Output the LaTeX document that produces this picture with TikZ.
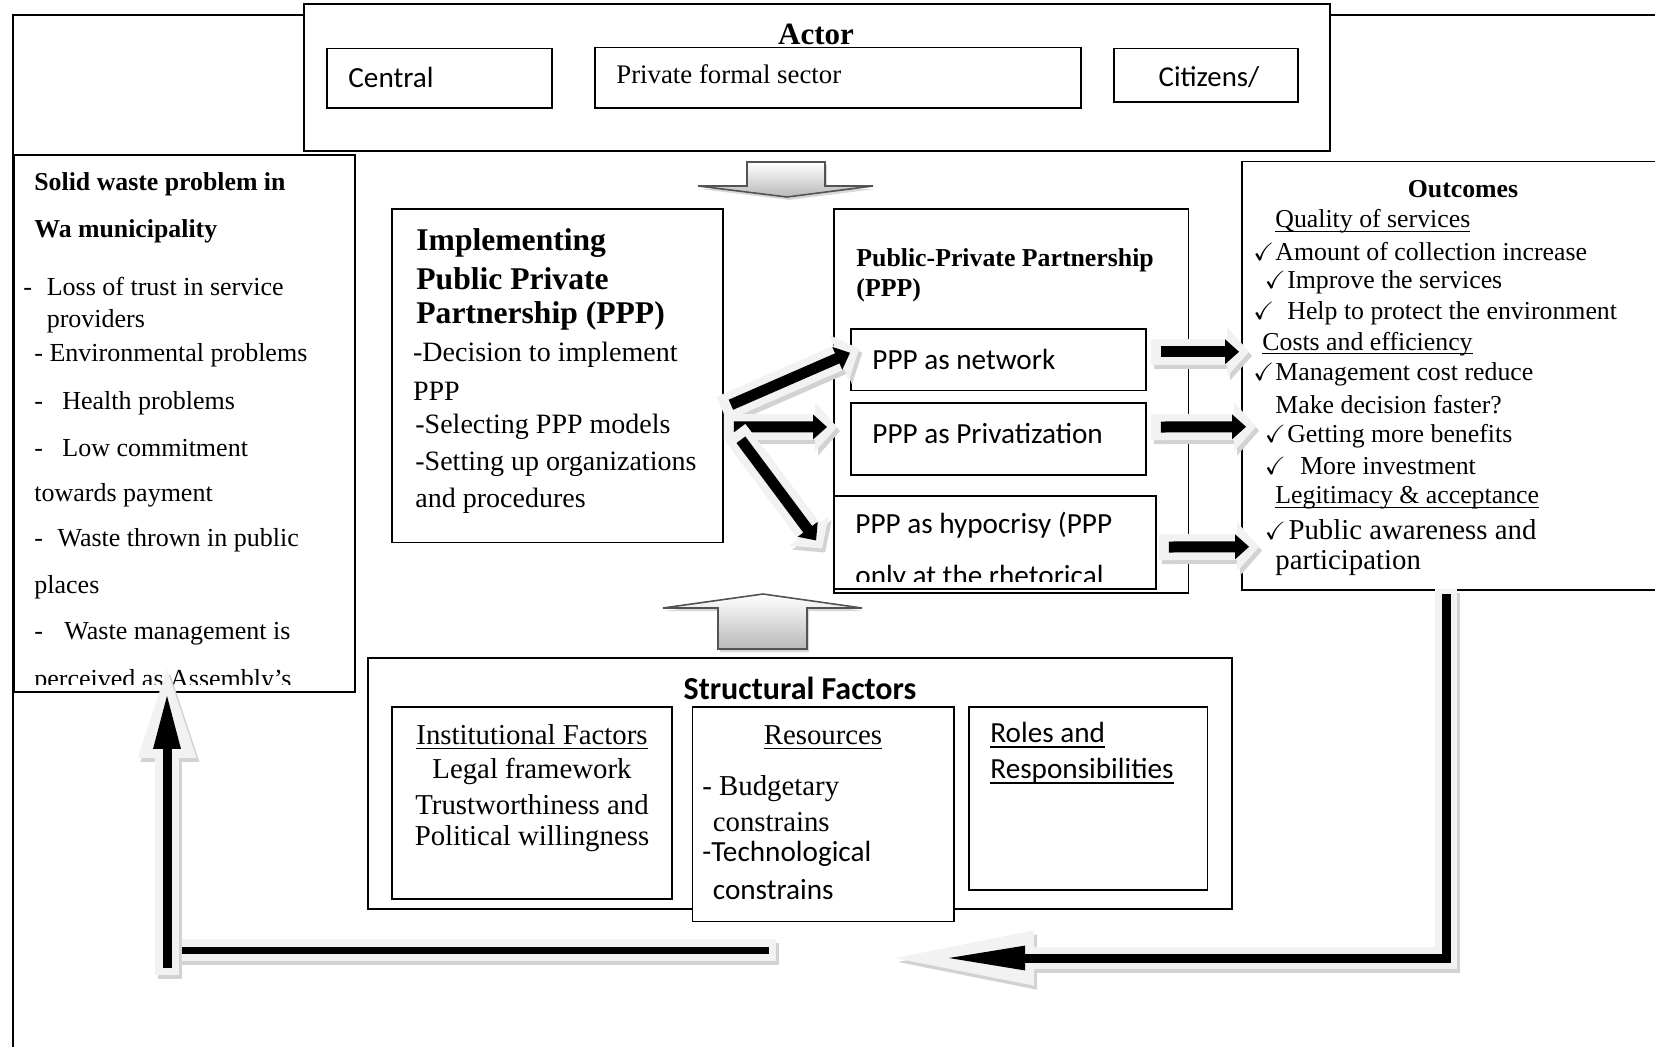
\documentclass[tikz,border=0pt]{standalone}
\usepackage{amssymb}
\usepackage{fontspec}
\setmainfont{Liberation Serif}
\newfontfamily\calibri{Carlito}
\usepackage{tikz}
\usetikzlibrary{arrows.meta,calc,fit,shadows,positioning}

\newcommand{\fsz}[1]{\fontsize{#1}{#1}\selectfont}
\newcommand{\ck}[1]{\makebox[#1][l]{\fsz{12.5}$\checkmark$}}
\newcommand{\dsh}[1]{\makebox[#1][l]{-}}
\newcommand{\ul}[1]{\underline{\smash{#1}}\vphantom{#1}}
\newcommand{\fatarrow}[2]{%
	\path[draw, fat shadow] #1 -- #2;
	\path[draw, fat halo] #1 -- #2;
	\path[draw, fat core] #1 -- #2;}

\tikzset{
	box/.style = {draw = black, line width = 0.9pt, fill = white, inner sep = 0pt},
	txt/.style = {inner sep = 0pt, anchor = west},
	wtitle/.style = {txt, yshift = -1.5pt, font = \bfseries\fsz{12.9}},
	wtxt/.style = {txt, yshift = -1.5pt, font = \fsz{13}},
	ititle/.style = {txt, yshift = -1.5pt, font = \bfseries\fsz{15.8}},
	itxt/.style = {txt, yshift = -1.5pt, font = \fsz{14}},
	ptitle/.style = {txt, yshift = -1.5pt, font = \bfseries\fsz{12.9}},
	sans/.style = {txt, font = \calibri\fsz{14.6}},
	otxt/.style = {txt, yshift = -1.5pt, font = \fsz{12.9}},
	ftxt/.style = {inner sep = 0pt, yshift = -1.5pt, font = \fsz{14.4}},
	blockarrow/.style = {draw = gray!65!black, line width = 0.8pt, top color = white, bottom color = gray!55,
		drop shadow = {shadow xshift = 1pt, shadow yshift = -1.5pt, opacity = 0.3}},
	fat core/.style = {draw = black, line width = 5.5pt, -{Triangle[length = 7pt, width = 12pt]}},
	fat halo/.style = {draw = gray!10, line width = 13pt, -{Triangle[length = 11pt, width = 24pt]},
		shorten <= -5pt, shorten >= -5pt},
	fat shadow/.style = {fat halo, draw = gray!35, transform canvas = {shift = {(1.5pt, -2pt)}}},
	fb halo/.style = {draw = gray!10, line width = 11pt, line join = miter},
	fb shadow/.style = {fb halo, draw = gray!35, transform canvas = {shift = {(1.5pt, -2pt)}}},
	fb core/.style = {draw = black, line width = 4.5pt, line join = miter}
}

\begin{document}
\begin{tikzpicture}[x = 0.5pt, y = -0.5pt]
\clip (0, 0) rectangle (1655, 1046);
\node[box, line width = 0.8pt, fit = {(13, 15) (1700, 1100)}] (frame) {};

% actors
\node[box, fit = {(304, 4) (1330, 151)}] (actor) {};
\node[box, fit = {(327, 48.5) (552, 108)}] (central) {};
\node[box, fit = {(595, 47.5) (1081, 108)}] (private) {};
\node[box, fit = {(1114, 48.5) (1298, 102)}] (citizens) {};
\node[inner sep = 0pt, font = \bfseries\fsz{15.5}] (actorT) at (816, 34) {Actor};
\node[sans] (centralT) at (348, 77) {Central};
\node[txt, font = \fsz{13.4}] (privateT) at (616, 74) {Private formal sector};
\node[inner sep = 0pt, font = \calibri\fsz{14.4}] (citizensT) at (1209, 77) {Citizens/};

% problem
\node[box, fit = {(14, 155) (355, 692)}] (waste) {};
\node[wtitle] (w1) at (34, 181.5) {Solid waste problem in};
\node[wtitle] (w2) at (34, 228) {Wa municipality};
\node[wtxt] (w3) at (23, 283) {\dsh{11.7pt}Loss of trust in service};
\node[wtxt] (w4) at (46.4, 318) {providers};
\node[wtxt] (w5) at (34, 352.5) {- Environmental problems};
\node[wtxt] (w6) at (34, 400) {\dsh{14pt}Health problems};
\node[wtxt] (w7) at (34, 445) {\dsh{14pt}Low commitment};
\node[wtxt] (w8) at (34, 492) {towards payment};
\node[wtxt] (w9) at (34, 537) {\dsh{11.6pt}Waste thrown in public};
\node[wtxt] (w10) at (34, 584) {places};
\node[wtxt] (w11) at (34, 631) {\dsh{15pt}Waste management is};
\begin{scope}
	\clip (14, 155) rectangle (355, 684);
	\node[wtxt] (w12) at (34, 678) {perceived as Assembly's};
\end{scope}

% implementing
\node[box, fit = {(391.6, 209) (723, 542.5)}] (impl) {};
\node[ititle] (i1) at (416, 239.6) {Implementing};
\node[ititle] (i2) at (416, 275.5) {Public Private};
\node[ititle] (i3) at (416, 312.4) {Partnership (PPP)};
\node[itxt] (i4) at (412.7, 351.5) {-Decision to implement};
\node[itxt] (i5) at (412.7, 388.4) {PPP};
\node[itxt] (i6) at (415, 424) {-Selecting PPP models};
\node[itxt] (i7) at (415, 461) {-Setting up organizations};
\node[itxt] (i8) at (415, 498) {and procedures};

% ppp
\node[box, fit = {(834, 209) (1188.5, 593)}] (ppp) {};
\node[ptitle] (p1) at (856, 257.5) {Public-Private Partnership};
\node[ptitle] (p2) at (856, 287) {(PPP)};
\node[box, fit = {(851, 329) (1146, 390.5)}] (net) {};
\node[sans] (netT) at (872, 359) {PPP as network};
\node[box, fit = {(851, 403) (1146, 475)}] (priv) {};
\node[sans] (privT) at (872, 433) {PPP as Privatization};
\node[box, fit = {(834, 496) (1156, 589)}] (hyp) {};
\node[sans] (hypT) at (855, 525.6) {PPP as hypocrisy (PPP};
\begin{scope}
	\clip (834, 496) rectangle (1156, 581);
	\node[sans] (hypT2) at (855, 578) {only at the rhetorical};
\end{scope}

% outcomes
\node[box, fit = {(1242, 161.5) (1700, 590)}] (outc) {};
\node[inner sep = 0pt, font = \bfseries\fsz{12.9}] (o0) at (1463, 189) {Outcomes};
\node[otxt] (o1) at (1275, 218.5) {\ul{Quality of services}};
\node[otxt] (o2) at (1253, 249) {\ck{11pt}Amount of collection increase};
\node[otxt] (o3) at (1264.5, 279.7) {\ck{11.2pt}Improve the services};
\node[otxt] (o4) at (1253, 310) {\ck{17pt}Help to protect the environment};
\node[otxt] (o5) at (1262, 341) {\ul{Costs and efficiency}};
\node[otxt] (o6) at (1253, 371.5) {\ck{11pt}Management cost reduce};
\node[otxt] (o7) at (1275, 402) {Make decision faster?};
\node[otxt] (o8) at (1264.5, 432.8) {\ck{11.2pt}Getting more benefits};
\node[otxt] (o9) at (1264.5, 463.4) {\ck{17.7pt}More investment};
\node[otxt] (o10) at (1275, 495) {\ul{Legitimacy \& acceptance}};
\node[otxt, font = \fsz{14.4}] (o11) at (1264.5, 526.7) {\ck{11.8pt}Public awareness and};
\node[otxt, font = \fsz{14.4}] (o12) at (1275, 560.5) {participation};

% structural factors
\node[box, fit = {(368, 657.6) (1232, 908.8)}] (struct) {};
\node[inner sep = 0pt, font = \calibri\bfseries\fsz{16}] (s0) at (800, 688) {Structural Factors};
\node[box, fit = {(391.6, 707) (672, 899)}] (inst) {};
\node[ftxt] (s1) at (532, 734.6) {\ul{Institutional Factors}};
\node[ftxt] (s2) at (532, 768.4) {Legal framework};
\node[ftxt] (s3) at (532, 802) {Trustworthiness and};
\node[ftxt] (s4) at (532, 836) {Political willingness};
\node[box, fit = {(692.4, 707) (954, 921.5)}] (res) {};
\node[ftxt] (r0) at (823, 734.6) {\ul{Resources}};
\node[ftxt, anchor = west] (r1) at (702, 786) {- Budgetary};
\node[ftxt, anchor = west] (r2) at (712.5, 819) {constrains};
\node[sans] (r3) at (702, 854) {-Technological};
\node[sans] (r4) at (712.5, 890) {constrains};
\node[box, fit = {(969, 707) (1207.5, 890)}] (roles) {};
\node[sans] (l1) at (990, 735.7) {\ul{Roles and}};
\node[sans] (l2) at (990, 771.6) {\ul{Responsibilities}};

% block arrows
\path[blockarrow] (747, 162) -- (825, 162) -- (825, 186) -- (873, 186) -- (787, 197) -- (698, 186) -- (747, 186) -- cycle;
\path[blockarrow] (763, 594) -- (862, 608) -- (807, 608) -- (807, 649) -- (718, 649) -- (718, 608) -- (663, 608) -- cycle;

% fat arrows
\fatarrow{($(impl.east) + (7, 29)$)}{($(net.west) + (0, -7)$)}
\fatarrow{($(impl.east) + (10, 51)$)}{($(priv.west) + (-23, -12)$)}
\fatarrow{($(impl.east) + (17, 64)$)}{($(hyp.west) + (-17, -2)$)}
\fatarrow{($(net.east) + (14, -8)$)}{($(outc.west) + (-2, -24)$)}
\fatarrow{($(priv.east) + (14, -12)$)}{($(outc.west) + (5, 51)$)}
\fatarrow{($(hyp.east) + (12, 4.5)$)}{($(outc.west) + (8, 171)$)}

% feedback
\coordinate (fbturn) at (1446, 958);
\coordinate (fbtip) at (943, 958);
\coordinate (fbhalo) at (880, 958);
\coordinate (fbmid) at (769, 950);
\coordinate (fbleft) at (167, 950);
\coordinate (fbfoot) at (167, 968);
\path[draw, fb shadow, shorten <= -1pt, -{Triangle[length = 77pt, width = 24pt]}] (outc.south -| fbturn) |- (fbhalo);
\path[draw, fb halo, shorten <= -1pt, -{Triangle[length = 77pt, width = 24pt]}] (outc.south -| fbturn) |- (fbhalo);
\path[draw, fb core, shorten <= 1.5pt, -{Triangle[length = 41pt, width = 11pt]}] (outc.south -| fbturn) |- (fbtip);
\path[draw, fb shadow, shorten <= -3.5pt, shorten >= -1.5pt] (fbmid) -- (fbleft);
\path[draw, fb halo, shorten <= -3.5pt, shorten >= -1.5pt] (fbmid) -- (fbleft);
\path[draw, fb core, line width = 3.5pt, shorten >= 2.5pt] (fbmid) -- (fbleft);
\path[draw, fb shadow, line width = 12pt, shorten <= -3.5pt, -{Triangle[length = 50pt, width = 25pt]}] (fbfoot) -- ($(waste.south -| fbfoot) + (0, -35)$);
\path[draw, fb halo, line width = 12pt, shorten <= -3.5pt, -{Triangle[length = 50pt, width = 25pt]}] (fbfoot) -- ($(waste.south -| fbfoot) + (0, -35)$);
\path[draw, fb core, -{Triangle[length = 28pt, width = 12.5pt]}] (fbfoot) -- (waste.south -| fbfoot);
\end{tikzpicture}
\end{document}
